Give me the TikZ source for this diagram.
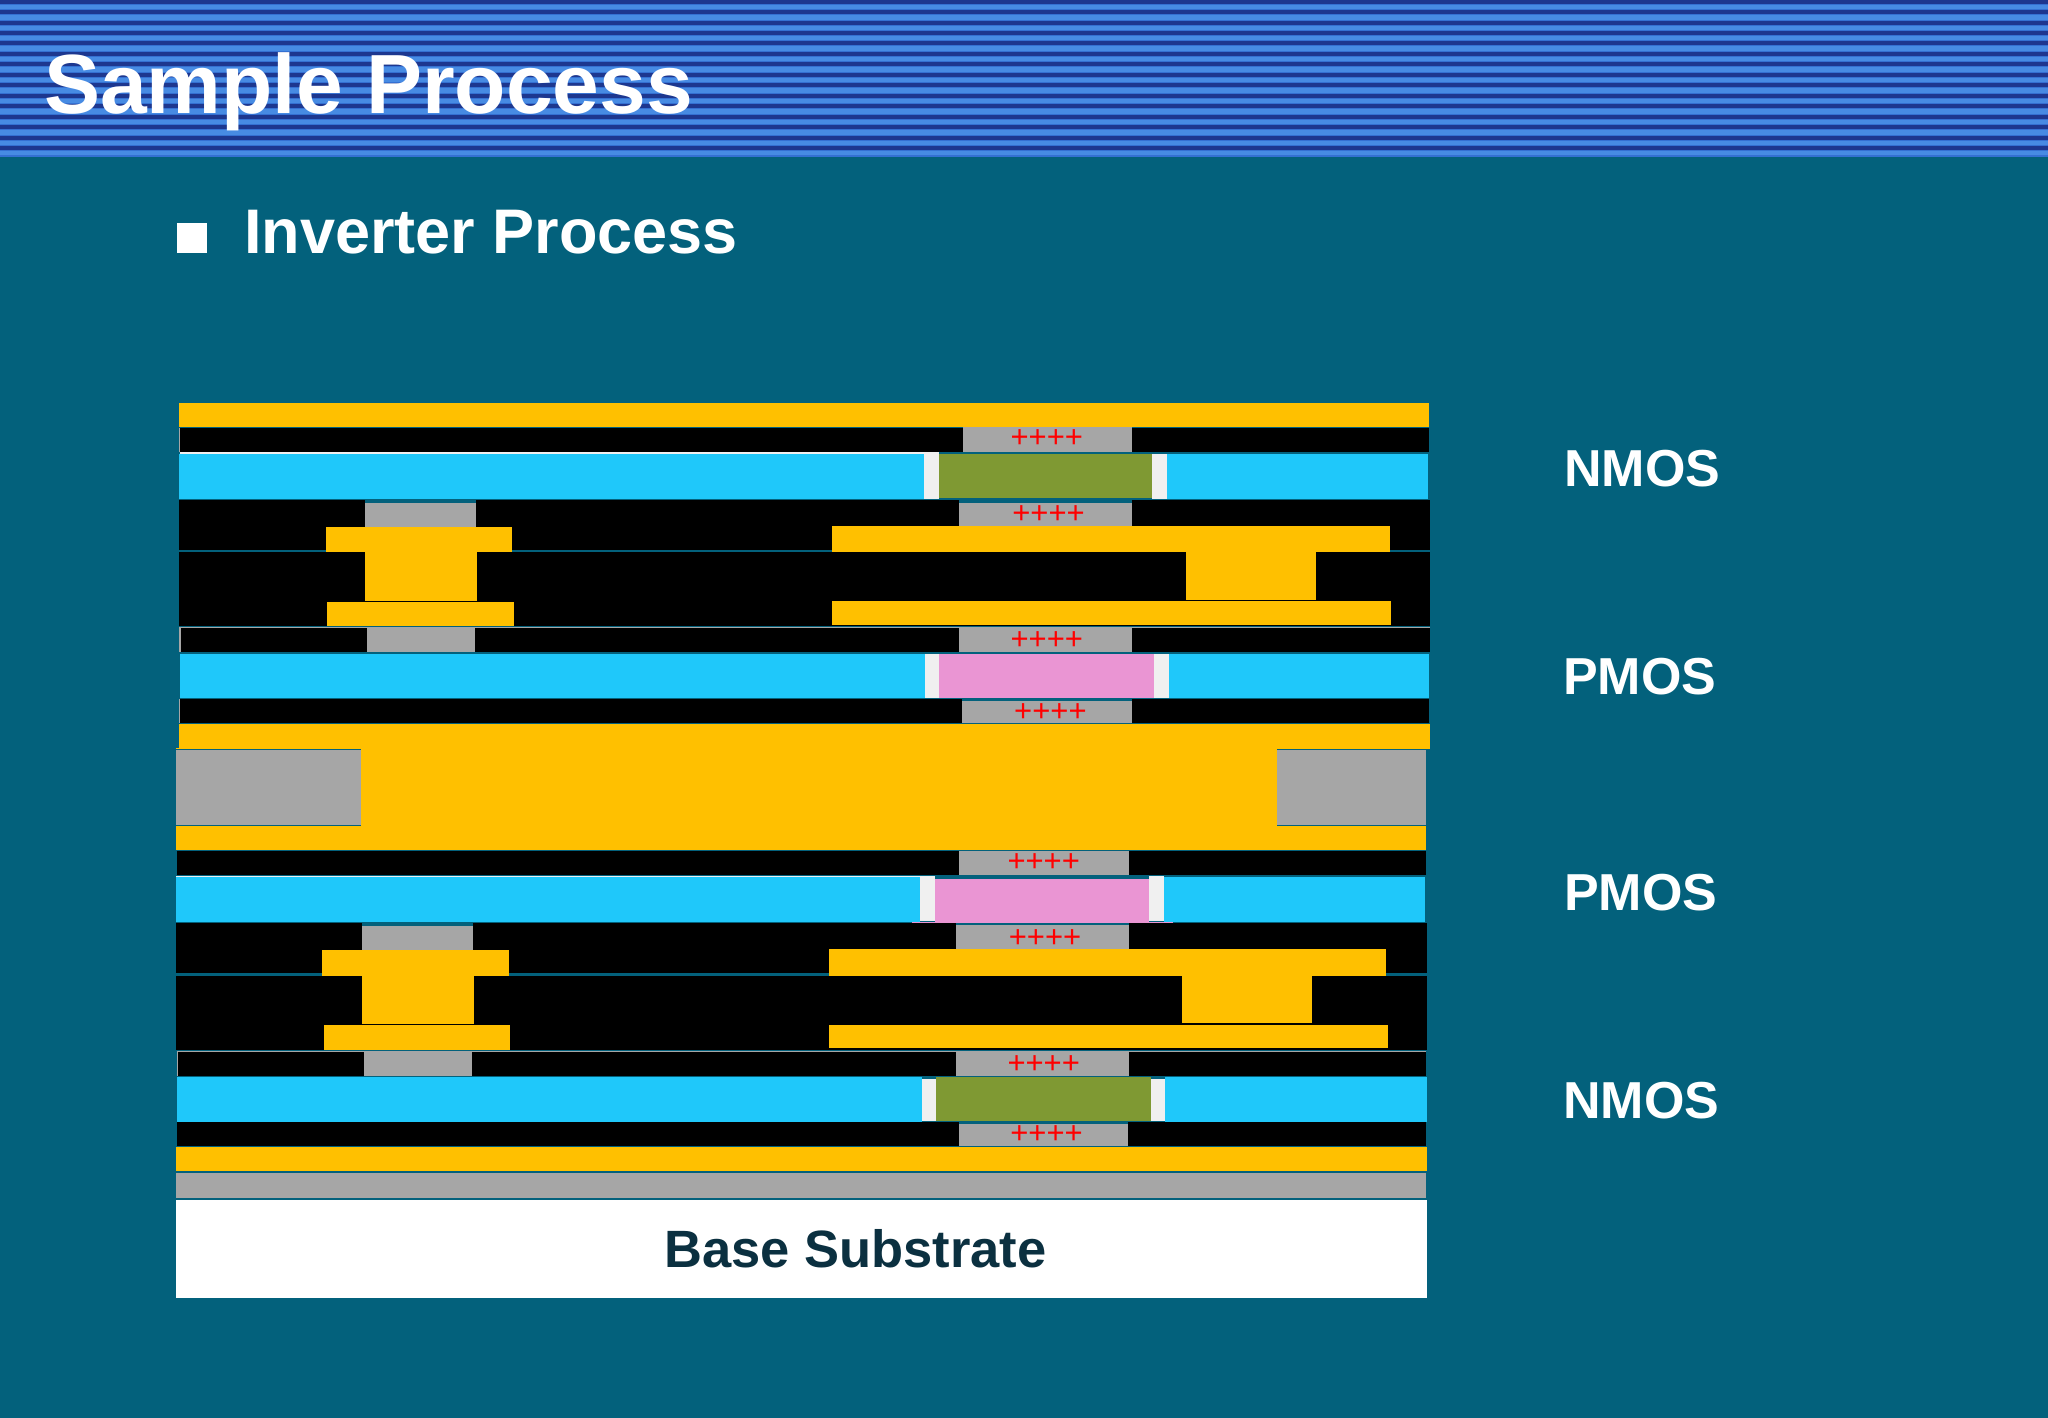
\documentclass[tikz,border=0pt]{standalone}
\usepackage{fontspec}
\setmainfont{Liberation Sans}
\definecolor{bgteal}{HTML}{03617C}
\definecolor{stripemid}{HTML}{3470D2}
\definecolor{stripedark}{HTML}{1D378F}
\definecolor{stripelight}{HTML}{478BE3}
\definecolor{metal}{HTML}{FFC000}
\definecolor{semi}{HTML}{1FC8FA}
\definecolor{oxide}{HTML}{A6A6A6}
\definecolor{ntype}{HTML}{7F9933}
\definecolor{ptype}{HTML}{EA95D3}
\definecolor{spacer}{HTML}{F0F0F0}
\definecolor{basetext}{HTML}{0B3040}
\tikzset{
  metalfill/.style={fill=metal},
  semifill/.style={fill=semi},
  oxidefill/.style={fill=oxide},
  blackfill/.style={fill=black},
  gapfill/.style={fill=bgteal},
  spacerfill/.style={fill=spacer},
  nfill/.style={fill=ntype},
  pfill/.style={fill=ptype},
  plusmark/.style={text=red,inner sep=0pt,anchor=center,yshift=-1.5pt,font=\fontsize{31}{31}\selectfont},
  sidelabel/.style={text=white,inner sep=0pt,anchor=base west,font=\fontsize{52}{52}\selectfont\bfseries},
  headline/.style={text=white,inner sep=0pt,anchor=base west}
}
\begin{document}
\begin{tikzpicture}[x=1pt,y=-1pt]
\useasboundingbox (0,0) rectangle (2048,1418);
\fill[gapfill] (0,0) rectangle (2048,1418);
% header stripes
\fill[stripemid] (0,0) rectangle (2048,157);
\begin{scope}
\clip (0,0) rectangle (2048,157);
\foreach \k in {0,...,14}{
  \pgfmathsetmacro{\c}{1.7+10.45*\k}
  \fill[stripedark] (0,\c-2) rectangle (2048,\c+2);
  \fill[stripelight] (0,\c+3) rectangle (2048,\c+7.45);
}
\end{scope}
\node[headline,font=\fontsize{84}{84}\selectfont\bfseries] (title) at (44,114) {Sample Process};
\fill[white] (177,223) rectangle (207,253);
\node[headline,font=\fontsize{63}{63}\selectfont\bfseries] (sub) at (244,253) {Inverter Process};

% top metal + gate stack (NMOS 1)
\fill[metalfill] (178.7,402.7) rectangle (1428.8,426.7);
\fill[oxide] (179,427.7) rectangle (180.5,451.7);
\fill[blackfill] (180,427.7) rectangle (1429.2,451.7);
\fill[oxidefill] (962.5,427.3) rectangle (1131.6,451.7);
\node[plusmark] (p1) at (1046.8,437.3) {++++};
\fill[spacer] (180,452.3) rectangle (924,454);
\fill[semifill] (179.2,454) rectangle (924.2,499);
\fill[spacerfill] (924.2,452.3) rectangle (938.5,499);
\fill[nfill] (938.5,453.5) rectangle (1151.9,498.3);
\fill[spacerfill] (1151.9,453.5) rectangle (1167,499);
\fill[semifill] (1167,454) rectangle (1428,499);

% interconnect block upper
\fill[blackfill] (178.7,500.3) rectangle (1430,550);
\fill[gapfill] (364.9,500.3) rectangle (476,503);
\fill[gapfill] (958.7,500.3) rectangle (1131.6,503);
\fill[oxidefill] (364.9,503) rectangle (476,526.7);
\fill[oxidefill] (958.7,503) rectangle (1131.6,526.7);
\node[plusmark] (p2) at (1048.5,513.3) {++++};
\fill[blackfill] (178.7,552) rectangle (1430,626);
\fill[metalfill] (325.6,526.7) rectangle (511.8,552);
\fill[metalfill] (364.9,552) rectangle (477.4,600.7);
\fill[metalfill] (327,602) rectangle (513.6,626.3);
\fill[metalfill] (831.6,526) rectangle (1389.6,552);
\fill[metalfill] (1185.5,552) rectangle (1315.6,600);
\fill[metalfill] (832.4,600.7) rectangle (1391,625);

% PMOS 1
\fill[oxide] (179,627.3) rectangle (1430,628.3);
\fill[oxide] (179,627.3) rectangle (180.5,652.3);
\fill[blackfill] (180.5,628) rectangle (1430,652.3);
\fill[oxidefill] (366.7,627.3) rectangle (474.7,652.3);
\fill[oxidefill] (958.7,627.3) rectangle (1131.6,652.3);
\node[plusmark] (p3) at (1046.8,639.3) {++++};
\fill[semifill] (180,653.7) rectangle (925.4,698);
\fill[spacerfill] (925.4,654.3) rectangle (938.9,698);
\fill[pfill] (938.9,654.3) rectangle (1153.5,698);
\fill[spacerfill] (1153.5,654.3) rectangle (1168.7,698);
\fill[semifill] (1168.7,653.7) rectangle (1429.2,698);
\fill[oxide] (179,699.3) rectangle (180.5,723);
\fill[blackfill] (180,699.3) rectangle (1429.2,723);
\fill[gapfill] (961.6,699.3) rectangle (1131.6,700.7);
\fill[oxidefill] (961.6,700.7) rectangle (1131.6,723);
\node[plusmark] (p4) at (1050.4,710.7) {++++};

% central metal with oxide ends
\fill[metalfill] (179.2,723.7) rectangle (1430,748.7);
\fill[metalfill] (176,748) rectangle (1426,850);
\fill[gapfill] (176,748.7) rectangle (361,749.7);
\fill[gapfill] (1277.3,748.7) rectangle (1430,749.7);
\fill[oxidefill] (176,749.7) rectangle (361,824.8);
\fill[oxidefill] (1277.3,749.7) rectangle (1426.3,824.8);
\fill[gapfill] (176,824.8) rectangle (361,826);
\fill[gapfill] (1277.3,824.8) rectangle (1426.3,826);

% PMOS 2
\fill[oxide] (176.5,851) rectangle (178,875);
\fill[blackfill] (177,851) rectangle (1426.3,875);
\fill[oxidefill] (959,851) rectangle (1128.7,875);
\node[plusmark] (p5) at (1043.7,861) {++++};
\fill[spacer] (176,876) rectangle (920,877.3);
\fill[semifill] (176,877) rectangle (920,921.9);
\fill[pfill] (912,922) rectangle (1172.5,923);
\fill[spacerfill] (920,876) rectangle (934.7,920.5);
\fill[pfill] (934.7,879) rectangle (1148.9,922);
\fill[spacerfill] (1149,876) rectangle (1164,920.5);
\fill[semifill] (1164,877) rectangle (1425,921.9);

% interconnect block lower
\fill[blackfill] (176,923.3) rectangle (1427,972.8);
\fill[gapfill] (361.8,923.3) rectangle (473,926);
\fill[gapfill] (955.7,923.3) rectangle (1128.7,925.3);
\fill[oxidefill] (361.8,926) rectangle (473,949.8);
\fill[oxidefill] (955.7,925.3) rectangle (1128.7,949);
\node[plusmark] (p6) at (1045,937) {++++};
\fill[blackfill] (176,975.6) rectangle (1427,1049.6);
\fill[metalfill] (322,949.8) rectangle (508.7,975.6);
\fill[metalfill] (361.8,975.6) rectangle (474.3,1023.8);
\fill[metalfill] (324.3,1025.2) rectangle (510.4,1049.6);
\fill[metalfill] (828.6,949) rectangle (1386.3,975.6);
\fill[metalfill] (1182,975.6) rectangle (1312,1022.8);
\fill[metalfill] (829,1024.5) rectangle (1387.5,1048);

% NMOS 2
\fill[oxide] (176.5,1050.5) rectangle (1426.3,1051.7);
\fill[oxide] (176.5,1050.5) rectangle (178,1075.8);
\fill[blackfill] (178,1051.7) rectangle (1426.3,1075.8);
\fill[oxidefill] (364,1051) rectangle (472,1075.8);
\fill[oxidefill] (955.7,1051) rectangle (1128.7,1075.8);
\node[plusmark] (p7) at (1043.7,1062.7) {++++};
\fill[semifill] (176.5,1076.8) rectangle (921.6,1121.6);
\fill[spacerfill] (921.6,1079) rectangle (936,1121);
\fill[nfill] (936,1076.8) rectangle (1150.6,1121);
\fill[spacerfill] (1150.6,1079) rectangle (1165.3,1121);
\fill[semifill] (1165.3,1076.8) rectangle (1426.7,1121.6);
\fill[blackfill] (176.5,1122) rectangle (1425.8,1146);
\fill[gapfill] (958.7,1122) rectangle (1127.9,1124.4);
\fill[oxidefill] (958.7,1124.4) rectangle (1127.9,1146);
\node[plusmark] (p8) at (1046.5,1133.3) {++++};

% bottom layers
\fill[metalfill] (176,1146.7) rectangle (1427,1171.2);
\fill[oxidefill] (176,1173.2) rectangle (1426,1197.7);
\fill[white] (176,1200) rectangle (1427,1297.6);
\node[inner sep=0pt,anchor=base west,text=basetext,font=\fontsize{52.5}{52.5}\selectfont\bfseries] (base) at (664,1267) {Base Substrate};

% side labels
\node[sidelabel] (n1) at (1564,486.5) {NMOS};
\node[sidelabel] (m1) at (1563,694.5) {PMOS};
\node[sidelabel] (m2) at (1564,910) {PMOS};
\node[sidelabel] (n2) at (1563,1118.5) {NMOS};
\end{tikzpicture}
\end{document}
